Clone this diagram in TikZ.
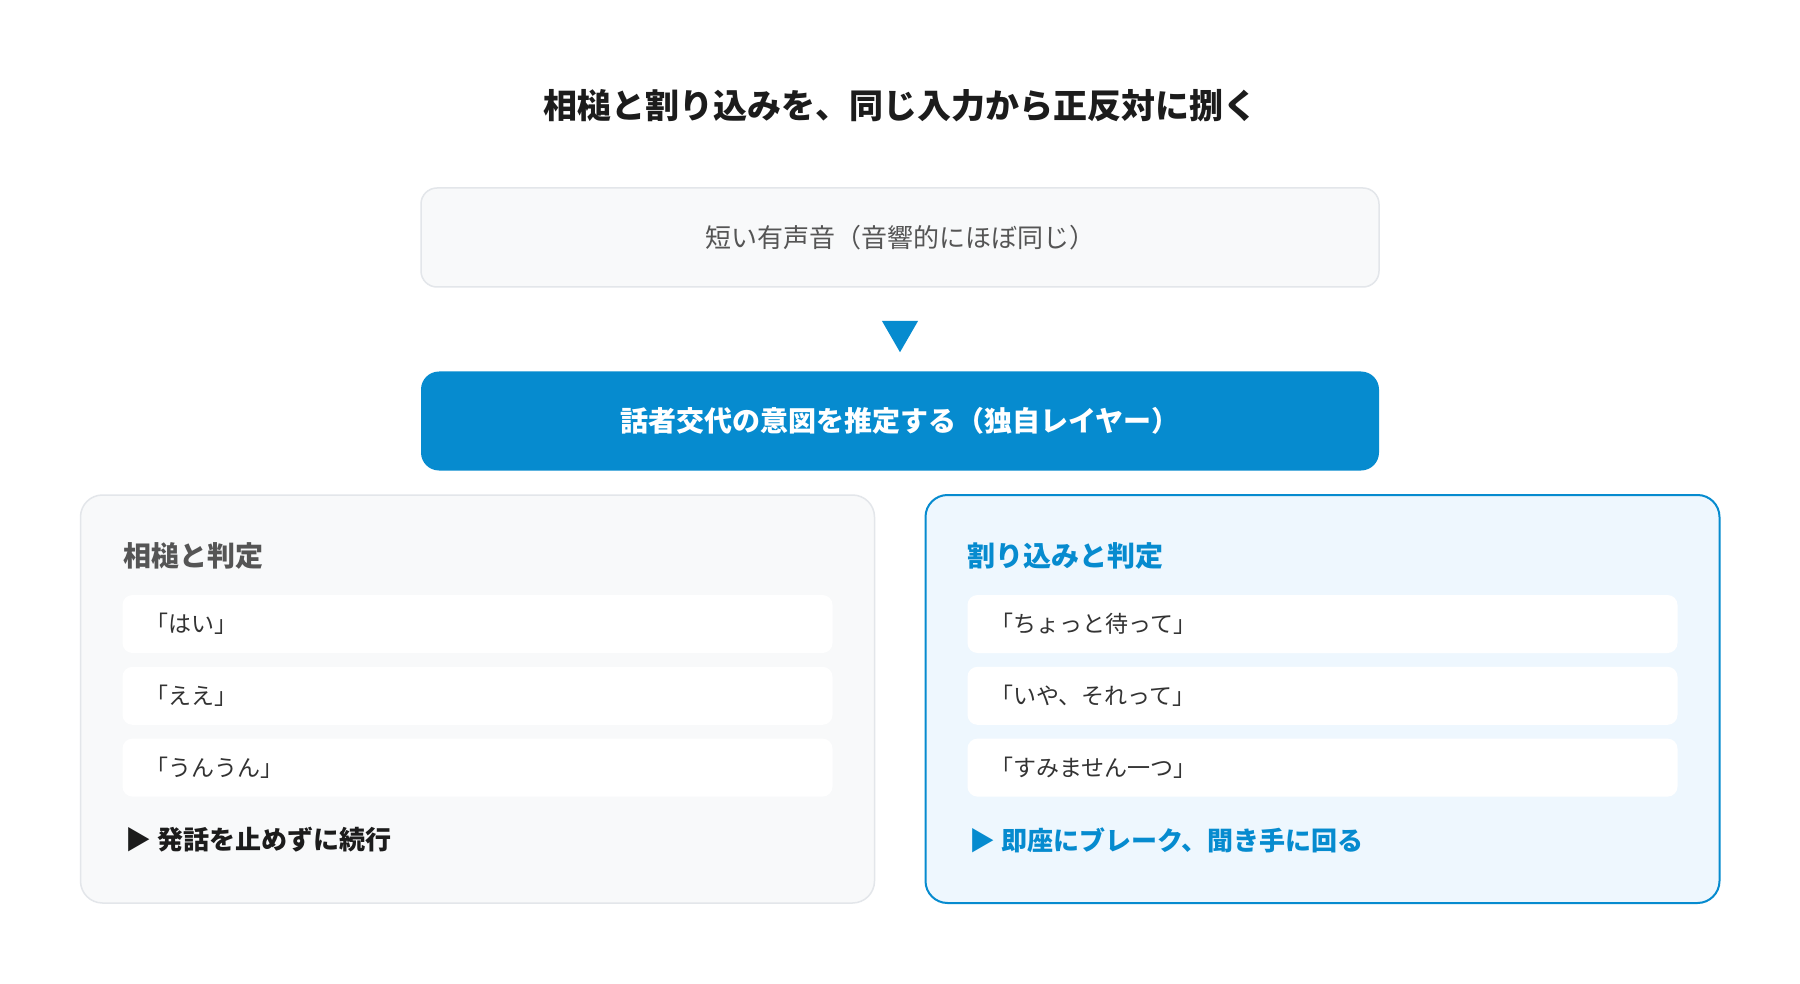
\documentclass[tikz,border=0pt]{standalone}
\usepackage{fontspec}
\setmainfont{Noto Sans CJK JP}
\usetikzlibrary{positioning,shapes.geometric}
\definecolor{accent}{HTML}{068BCF}
\definecolor{titletext}{HTML}{1C1C1C}
\definecolor{graytext}{HTML}{555555}
\definecolor{itemtext}{HTML}{333333}
\definecolor{panelbg}{HTML}{F8F9FA}
\definecolor{panelline}{HTML}{E3E6EA}
\definecolor{accentbg}{HTML}{EEF7FE}

\begin{document}
\begin{tikzpicture}[x=0.5pt, y=-0.5pt,
  box/.style={rounded corners=8pt, minimum width=479pt, minimum height=49.5pt, inner sep=0pt},
  panel/.style={rounded corners=11pt, minimum width=397pt, minimum height=204pt, inner sep=0pt},
  head/.style={anchor=west, inner sep=0pt, font=\bfseries\fontsize{14}{17}\selectfont},
  item/.style={fill=white, rounded corners=5pt, minimum height=29pt, text width=332pt, inner xsep=11.5pt, inner ysep=0pt, align=left, text=itemtext, font=\fontsize{11.5}{14}\selectfont},
  verdict/.style={anchor=west, inner sep=0pt, font=\bfseries\fontsize{13}{16}\selectfont},
  node distance=6.5pt]
\useasboundingbox (0,0) rectangle (1800,984);
\fill[white] (0,0) rectangle (1800,984);

\node [text=titletext, font=\bfseries\fontsize{17}{20}\selectfont] (title) at (900,106) {相槌と割り込みを、同じ入力から正反対に捌く};

\node [box, fill=panelbg, draw=panelline, line width=0.75pt, text=graytext, font=\fontsize{13}{16}\selectfont] (voice) at (900,237.5) {短い有声音（音響的にほぼ同じ）};
\node [box, fill=accent, text=white, rounded corners=9pt, font=\bfseries\fontsize{14}{17}\selectfont] (intent) at (900,421) {話者交代の意図を推定する（独自レイヤー）};
\node [regular polygon, regular polygon sides=3, shape border rotate=180, minimum size=20.8pt, inner sep=0pt, fill=accent] (down) at (900,331.4) {};

% left: backchannel
\node [panel, fill=panelbg, draw=panelline, line width=0.75pt] (aizuchi) at (477.5,699) {};
\node [head, text=graytext] (aizuchiHead) at (123,556) {相槌と判定};
\node [item] (hai) at (477.5,624) {「はい」};
\node [item, below=of hai] (ee) {「ええ」};
\node [item, below=of ee] (unun) {「うんうん」};
\node [verdict, text=titletext] (keep) at (125,840) {▶ 発話を止めずに続行};

% right: interruption
\node [panel, fill=accentbg, draw=accent, line width=1pt] (warikomi) at (1322.5,699) {};
\node [head, text=accent] (warikomiHead) at (967,556) {割り込みと判定};
\node [item] (matte) at (1322.5,624) {「ちょっと待って」};
\node [item, below=of matte] (iya) {「いや、それって」};
\node [item, below=of iya] (sumimasen) {「すみません一つ」};
\node [verdict, text=accent] (yield) at (969,840) {▶ 即座にブレーク、聞き手に回る};

\end{tikzpicture}
\end{document}
